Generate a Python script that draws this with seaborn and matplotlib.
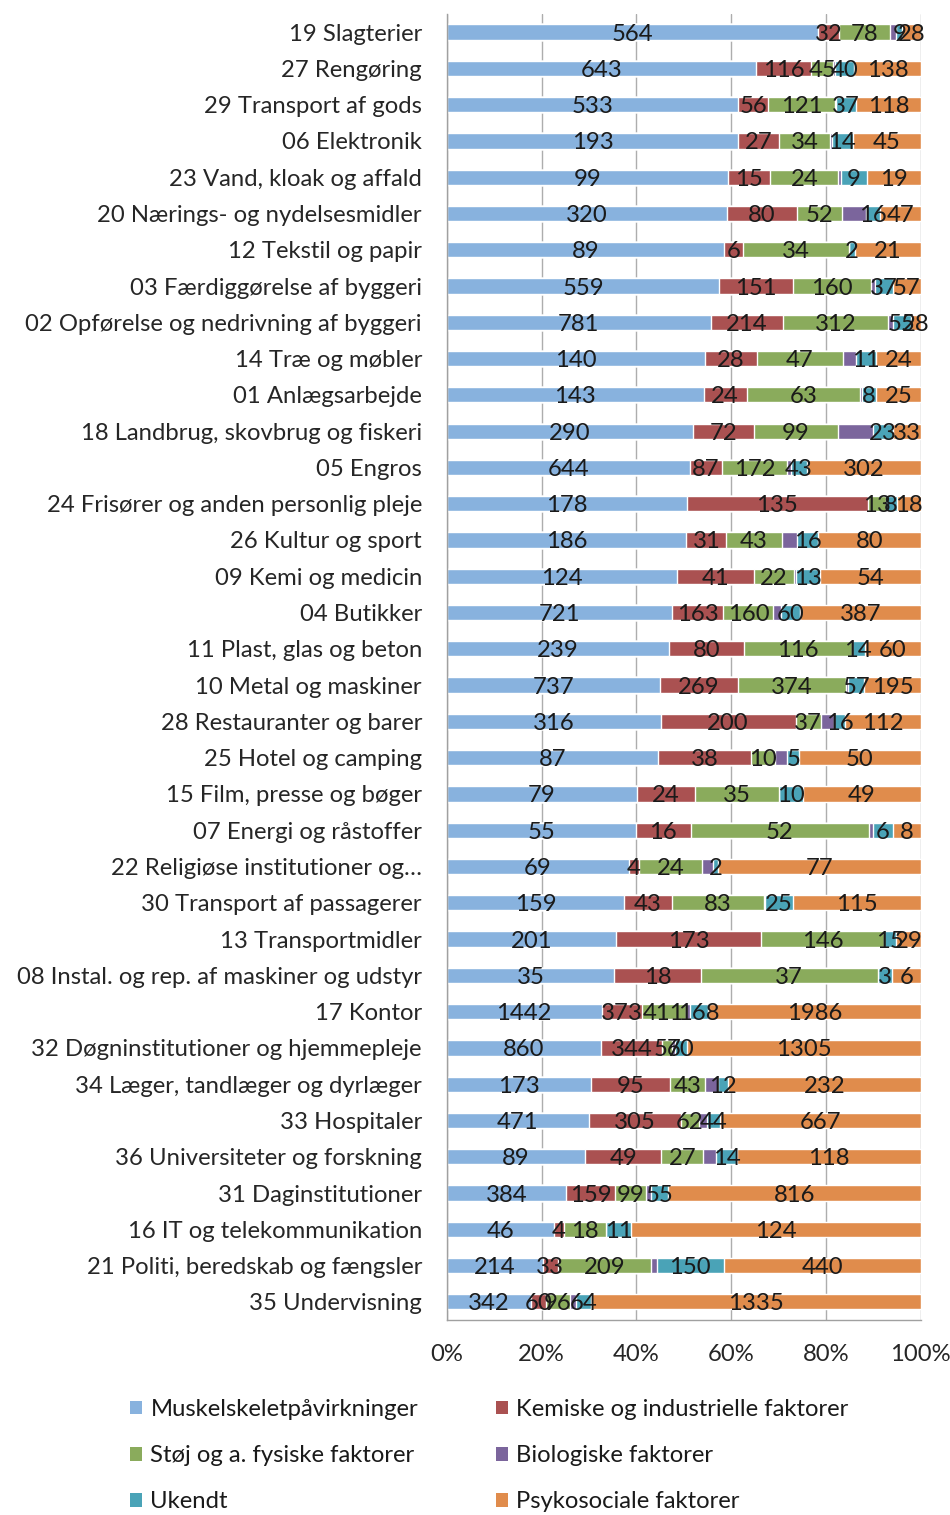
import numpy as np
import matplotlib
matplotlib.use("Agg")
import matplotlib.pyplot as plt
import seaborn as sns
from matplotlib.patches import Patch
from matplotlib.ticker import FixedLocator

CATEGORIES = [
    "19 Slagterier", "27 Rengøring", "29 Transport af gods", "06 Elektronik",
    "23 Vand, kloak og affald", "20 Nærings- og nydelsesmidler", "12 Tekstil og papir",
    "03 Færdiggørelse af byggeri", "02 Opførelse og nedrivning af byggeri",
    "14 Træ og møbler", "01 Anlægsarbejde", "18 Landbrug, skovbrug og fiskeri",
    "05 Engros", "24 Frisører og anden personlig pleje", "26 Kultur og sport",
    "09 Kemi og medicin", "04 Butikker", "11 Plast, glas og beton",
    "10 Metal og maskiner", "28 Restauranter og barer", "25 Hotel og camping",
    "15 Film, presse og bøger", "07 Energi og råstoffer",
    "22 Religiøse institutioner og…", "30 Transport af passagerer",
    "13 Transportmidler", "08 Instal. og rep. af maskiner og udstyr", "17 Kontor",
    "32 Døgninstitutioner og hjemmepleje", "34 Læger, tandlæger og dyrlæger",
    "33 Hospitaler", "36 Universiteter og forskning", "31 Daginstitutioner",
    "16 IT og telekommunikation", "21 Politi, beredskab og fængsler",
    "35 Undervisning",
]

SERIES = [
    "Muskelskeletpåvirkninger", "Kemiske og industrielle faktorer",
    "Støj og a. fysiske faktorer", "Biologiske faktorer", "Ukendt",
    "Psykosociale faktorer",
]
COLORS = ["#88B2DE", "#AA5151", "#8AAB5C", "#7B659C", "#4AA3B7", "#E08C4C"]

muskel = [564, 643, 533, 193, 99, 320, 89, 559, 781, 140, 143, 290, 644, 178, 186, 124,
          721, 239, 737, 316, 87, 79, 55, 69, 159, 201, 35, 1442, 860, 173, 471, 89,
          384, 46, 214, 342]
kemisk = [32, 116, 56, 27, 15, 80, 6, 151, 214, 28, 24, 72, 87, 135, 31, 41,
          163, 80, 269, 200, 38, 24, 16, 4, 43, 173, 18, 373, 344, 95, 305, 49,
          159, 4, 33, 60]
stoej = [78, 45, 121, 34, 24, 52, 34, 160, 312, 47, 63, 99, 172, 13, 43, 22,
         160, 116, 374, 37, 10, 35, 52, 24, 83, 146, 37, 411, 56, 43, 62, 27,
         99, 18, 209, 96]
biologisk = [9, 5, 3, 1, 1, 27, 0, 9, 14, 7, 1, 42, 10, 0, 12, 1,
             24, 0, 8, 20, 5, 0, 1, 4, 1, 0, 0, 40, 14, 15, 25, 8,
             15, 0, 12, 24]
ukendt = [9, 40, 37, 14, 9, 16, 2, 37, 55, 11, 8, 23, 43, 8, 16, 13,
          60, 14, 57, 16, 5, 10, 6, 2, 25, 15, 3, 168, 70, 12, 44, 14,
          55, 11, 150, 64]
psyko = [28, 138, 118, 45, 19, 47, 21, 57, 28, 24, 25, 33, 302, 18, 80, 54,
         387, 60, 195, 112, 50, 49, 8, 77, 115, 29, 6, 1986, 1305, 232, 667, 118,
         816, 124, 440, 1335]

FONT = ["Lato", "DejaVu Sans"]
FS = 17.2

sns.set_style("white")
plt.rcParams["font.family"] = FONT
plt.rcParams["text.color"] = "#1a1a1a"

counts = np.array([muskel, kemisk, stoej, biologisk, ukendt, psyko], dtype=float).T
pct = counts / counts.sum(axis=1, keepdims=True)
cum = np.cumsum(pct, axis=1)

fig = plt.figure(figsize=(9.5, 15.15), dpi=100)
ax = fig.add_axes([0.4705, 0.1287, 0.4987, 0.8621])

# stack by overlaying cumulative bars, widest first
for i in range(len(SERIES) - 1, -1, -1):
    sns.barplot(x=cum[:, i], y=CATEGORIES, orient="h", color=COLORS[i],
                saturation=1, width=0.42, ax=ax, zorder=2)

# value labels (biological factors are not labelled in the original)
for r in range(len(CATEGORIES)):
    for i in range(len(SERIES)):
        if i == 3 or counts[r, i] == 0:
            continue
        left = cum[r, i] - pct[r, i]
        ax.text(left + pct[r, i] / 2, r, f"{int(counts[r, i])}", ha="center",
                va="center_baseline", fontsize=FS, color="#1a1a1a", zorder=3)

ax.set_xlim(0, 1)
ax.set_ylim(len(CATEGORIES) - 0.5, -0.5)
ax.set_xticks(np.arange(0, 1.01, 0.2))
ax.set_xticklabels([f"{int(round(v * 100))}%" for v in np.arange(0, 1.01, 0.2)])
ax.set_xlabel("")
ax.set_ylabel("")

ax.grid(axis="x", color="#ADADAD", linewidth=1.0)
ax.grid(axis="y", visible=False)
ax.set_axisbelow(True)

for side in ["top", "right"]:
    ax.spines[side].set_visible(False)
for side in ["left", "bottom"]:
    ax.spines[side].set_color("#A0A0A0")
    ax.spines[side].set_linewidth(1.0)

ax.yaxis.set_minor_locator(FixedLocator(np.arange(-0.5, len(CATEGORIES), 1.0)))
ax.tick_params(axis="y", which="major", length=0, pad=18, labelsize=FS)
ax.tick_params(axis="y", which="minor", length=5, color="#A0A0A0", width=1.0)
ax.tick_params(axis="x", which="major", length=5, color="#A0A0A0", width=1.0,
               pad=12, labelsize=FS, direction="out")

h1 = [Patch(facecolor=COLORS[i], edgecolor="none") for i in (0, 2, 4)]
l1 = [SERIES[i] for i in (0, 2, 4)]
h2 = [Patch(facecolor=COLORS[i], edgecolor="none") for i in (1, 3, 5)]
l2 = [SERIES[i] for i in (1, 3, 5)]
leg_kw = dict(loc="upper left", frameon=False, fontsize=FS, handlelength=0.5,
              handleheight=0.5, handletextpad=0.35, labelspacing=1.05,
              borderaxespad=0, borderpad=0)
fig.legend(h1, l1, bbox_to_anchor=(0.137, 0.0765), **leg_kw)
fig.legend(h2, l2, bbox_to_anchor=(0.522, 0.0765), **leg_kw)

fig.savefig("out.png", dpi=100)
